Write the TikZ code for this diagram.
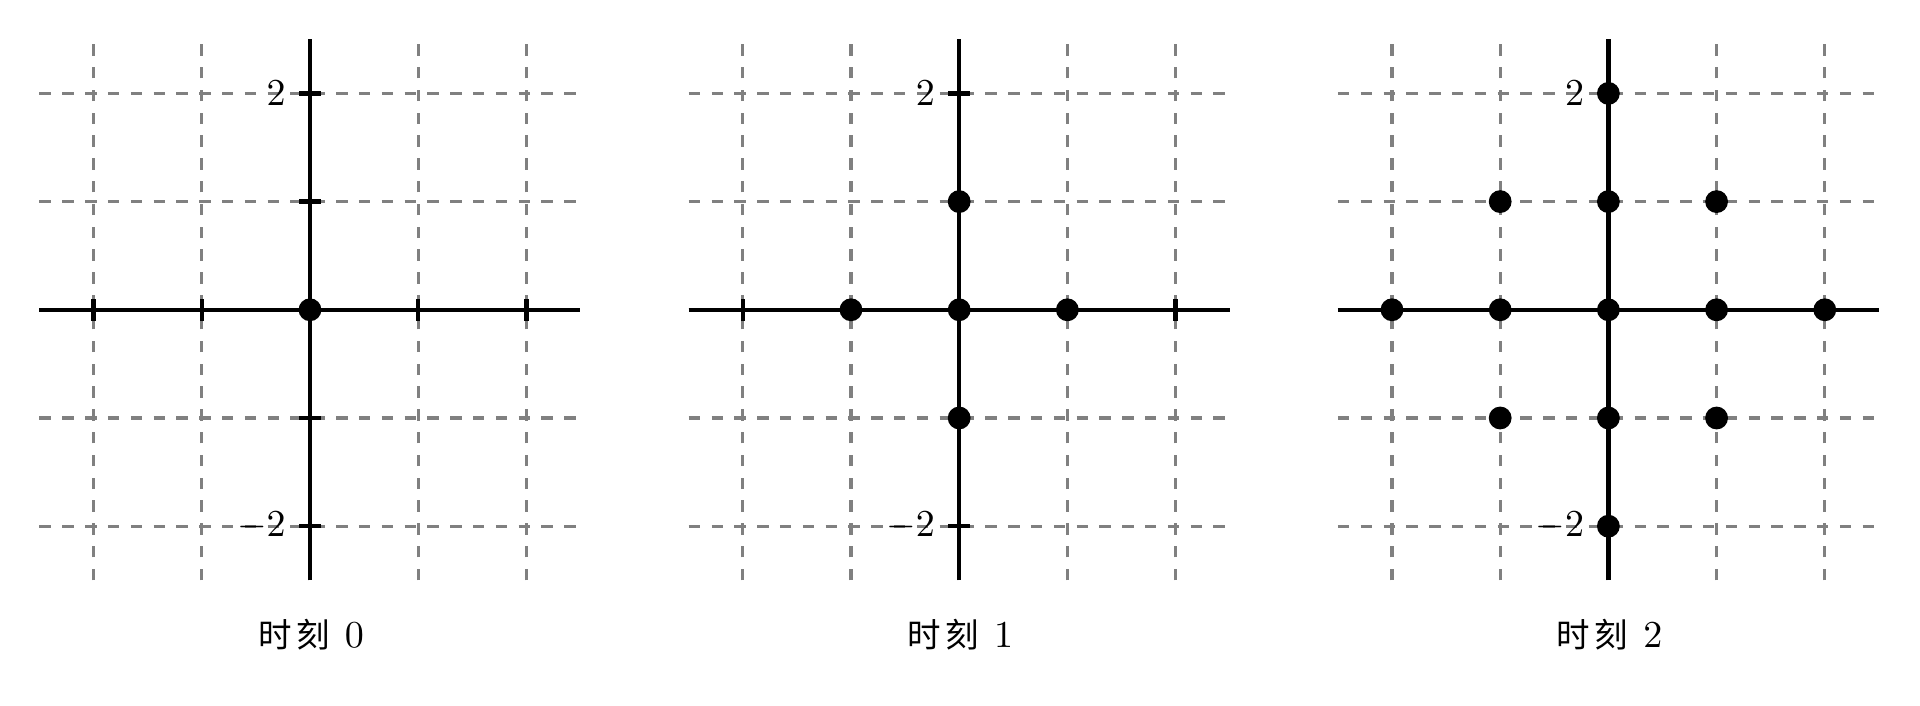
\documentclass[tikz,border=0pt]{standalone}
\usepackage{fontspec}
\newfontfamily\cjk[Scale=0.88]{Noto Sans CJK SC}
\newcommand{\cjkchar}[1]{\makebox[10pt]{\cjk #1}}
\begin{document}
\begin{tikzpicture}[x=1cm,y=1cm,
  gridline/.style={gray, thick, dashed},
  axisline/.style={black, line width=1.2pt},
  tickmark/.style={black, line width=1.2pt},
  dot/.style={circle, fill=black, inner sep=0pt, minimum size=6pt},
  ticklabel/.style={left, inner sep=3.33pt},
  caption/.style={inner sep=2pt}]
\useasboundingbox (-2.865,-3.653) rectangle (14.88,2.863);
\foreach \p/\k in {0/0,6/1,12/2} {
  \begin{scope}[xshift=\p cm]
    \draw[gridline] (-2.5,-2.5) grid (2.5,2.5);
    \coordinate (L\k) at (-2.5,0);
    \coordinate (R\k) at (2.5,0);
    \coordinate (B\k) at (0,-2.5);
    \coordinate (T\k) at (0,2.5);
    \draw[axisline] (L\k) -- (R\k);
    \draw[axisline] (B\k) -- (T\k);
    \foreach \t in {-2,-1,1,2} {
      \draw[tickmark] (\t,-0.1) -- (\t,0.1);
      \draw[tickmark] (-0.1,\t) -- (0.1,\t);
    }
    \node[ticklabel] (yp\k) at (-0.1,2) {$2$};
    \node[ticklabel] (ym\k) at (-0.1,-2) {$-2$};
    \node[caption] (cap\k) at (0,-3) {\cjkchar{时}\cjkchar{刻}\ $\k$};
  \end{scope}
}
% panel 0
\node[dot] (a00) at (0,0) {};
% panel 1
\begin{scope}[xshift=6cm]
  \foreach \x/\y/\n in {0/0/a, 1/0/b, -1/0/c, 0/1/d, 0/-1/e}
    \node[dot] (b\n) at (\x,\y) {};
\end{scope}
% panel 2
\begin{scope}[xshift=12cm]
  \foreach \x/\y/\n in {0/0/a, 1/0/b, -1/0/c, 0/1/d, 0/-1/e, 2/0/f, -2/0/g, 0/2/h, 0/-2/i, 1/1/j, 1/-1/k, -1/1/l, -1/-1/m}
    \node[dot] (c\n) at (\x,\y) {};
\end{scope}
\end{tikzpicture}
\end{document}
